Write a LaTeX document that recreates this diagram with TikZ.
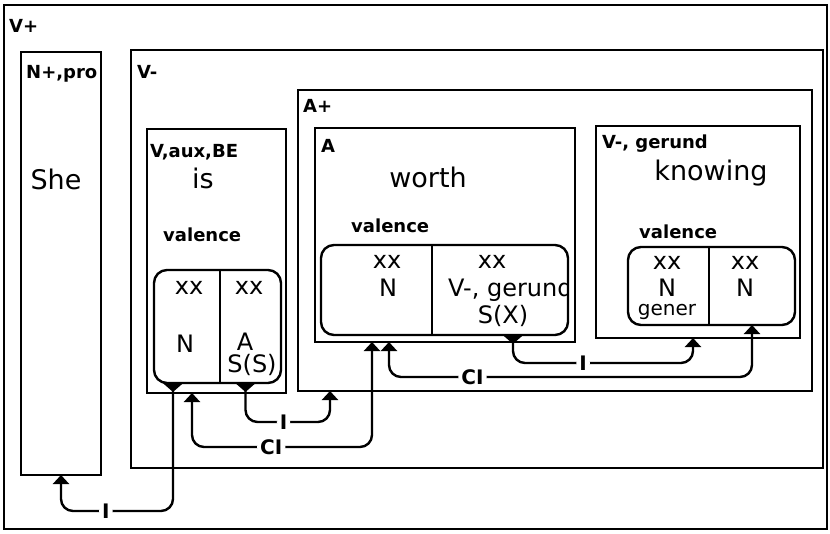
\documentclass[tikz,border=0pt]{standalone}
\usepackage{fontspec}
\setmainfont{DejaVu Sans}
\usetikzlibrary{arrows.meta}
\newcommand\dgLab{\bfseries\fontsize{18}{21}\selectfont}
\newcommand\dgWord{\fontsize{27}{30}\selectfont}
\newcommand\dgSlot{\fontsize{24}{27}\selectfont}
\newcommand\dgSmall{\fontsize{20}{23}\selectfont}
\newcommand\dgConn{\bfseries\fontsize{20}{23}\selectfont}
\begin{document}
\begin{tikzpicture}[x=1pt,y=-1pt,
  box/.style={draw,line width=2.4pt,inner sep=0pt,outer sep=0pt,anchor=north west},
  slot/.style={draw,line width=2.4pt,rounded corners=13pt,inner sep=0pt,outer sep=0pt,anchor=north west},
  half/.style={inner sep=0pt,outer sep=0pt,anchor=north west},
  lab/.style={anchor=base west,inner sep=0pt,font=\dgLab},
  word/.style={anchor=base,inner sep=0pt,font=\dgWord},
  sl/.style={anchor=base,inner sep=0pt,font=\dgSlot},
  conn/.style={line width=2.4pt,rounded corners=12pt},
  cl/.style={fill=white,inner sep=3pt,font=\dgConn},
  dd/.style={arrows={Triangle[width=16pt,length=9pt]-Triangle[width=16pt,length=9pt]}},
  bd/.style={arrows={Triangle[reversed,width=20pt,length=9pt]-Triangle[width=16pt,length=9pt]}},
]
\useasboundingbox (0,0) rectangle (830,533);
% boxes
\node[box,minimum width=823pt,minimum height=524pt] (vp) at (4,5) {};
\node[box,minimum width=80pt,minimum height=423pt] (she) at (21,52) {};
\node[box,minimum width=692pt,minimum height=418pt] (vm) at (131,50) {};
\node[box,minimum width=514pt,minimum height=301pt] (ap) at (298,90) {};
\node[box,minimum width=139pt,minimum height=264pt] (vbe) at (147,129) {};
\node[box,minimum width=260pt,minimum height=214pt] (abox) at (315,128) {};
\node[box,minimum width=204pt,minimum height=212pt] (ger) at (596,126) {};
% slots
\node[slot,minimum width=127pt,minimum height=113pt] (isSlot) at (154,270) {};
\node[half,minimum width=66pt,minimum height=113pt] (isL) at (154,270) {};
\node[half,minimum width=61pt,minimum height=113pt] (isR) at (220,270) {};
\draw[line width=2.4pt] (isL.north east) -- (isL.south east);
\node[slot,minimum width=247pt,minimum height=90pt] (aSlot) at (321,245) {};
\node[half,minimum width=111pt,minimum height=90pt] (aL) at (321,245) {};
\node[half,minimum width=136pt,minimum height=90pt] (aR) at (432,245) {};
\draw[line width=2.4pt] (aL.north east) -- (aL.south east);
\node[slot,minimum width=167pt,minimum height=78pt] (gSlot) at (628,247) {};
\node[half,minimum width=81pt,minimum height=78pt] (gL) at (628,247) {};
\node[half,minimum width=86pt,minimum height=78pt] (gR) at (709,247) {};
\draw[line width=2.4pt] (gL.north east) -- (gL.south east);
% labels
\node[lab] (tvp) at (9,32) {V+};
\node[lab] (tnp) at (26,78) {N+,pro};
\node[lab] (tvm) at (137,78) {V-};
\node[lab] (tap) at (303,112) {A+};
\node[lab] (tvbe) at (150,157) {V,aux,BE};
\node[lab] (ta) at (321,152) {A};
\node[lab] (tger) at (602,148) {V-, gerund};
\node[lab] (tval1) at (163,241) {valence};
\node[lab] (tval2) at (351,232) {valence};
\node[lab] (tval3) at (639,238) {valence};
% words
\node[word] (wshe) at (56,189) {She};
\node[word] (wis) at (203,188) {is};
\node[word] (wworth) at (428,187) {worth};
\node[word] (wknow) at (711,180) {knowing};
% slot texts
\node[sl] (s1) at (189,294) {xx};
\node[sl] (s2) at (249,294) {xx};
\node[sl] (s3) at (185,352) {N};
\node[sl] (s4) at (245,350) {A};
\node[sl] (s5) at (252,372) {S(S)};
\node[sl] (s6) at (387,268) {xx};
\node[sl] (s7) at (388,296) {N};
\node[sl] (s8) at (492,268) {xx};
\node[sl] (s9) at (503,323) {S(X)};
\begin{scope}
\clip (433,246) rectangle (566,334);
\node[sl,anchor=base west] (s10) at (448,296) {V-, gerund};
\end{scope}
\node[sl] (s11) at (667,269) {xx};
\node[sl] (s12) at (667,296) {N};
\node[sl,font=\dgSmall] (s13) at (667,315) {gener};
\node[sl] (s14) at (745,269) {xx};
\node[sl] (s15) at (745,296) {N};
% connectors
\coordinate (c1a) at ([xshift=-14pt]isL.south);
\draw[conn,bd] (c1a) -- (c1a |- 0,511) -- node[cl,pos=0.6] (l1) {I} (she.south |- 0,511) -- (she.south);
\coordinate (c2a) at ([xshift=45pt]vbe.south west);
\coordinate (c2b) at ([xshift=57pt]abox.south west);
\draw[conn,dd] (c2a) -- (c2a |- 0,447) -- node[cl,pos=0.44] (l2) {CI} (c2b |- 0,447) -- (c2b);
\coordinate (c3a) at ([xshift=-5pt]isR.south);
\coordinate (c3b) at ([xshift=32pt]ap.south west);
\draw[conn,bd] (c3a) -- (c3a |- 0,422) -- node[cl,pos=0.45] (l3) {I} (c3b |- 0,422) -- (c3b);
\coordinate (c4a) at ([xshift=74pt]abox.south west);
\draw[conn,dd] (c4a) -- (c4a |- 0,377) -- node[cl,pos=0.23] (l4) {CI} (gR.south |- 0,377) -- (gR.south);
\coordinate (c5a) at ([xshift=13pt]aR.south);
\coordinate (c5b) at ([xshift=97pt]ger.south west);
\draw[conn,bd] (c5a) -- (c5a |- 0,363) -- node[cl,pos=0.39] (l5) {I} (c5b |- 0,363) -- (c5b);
\end{tikzpicture}
\end{document}
